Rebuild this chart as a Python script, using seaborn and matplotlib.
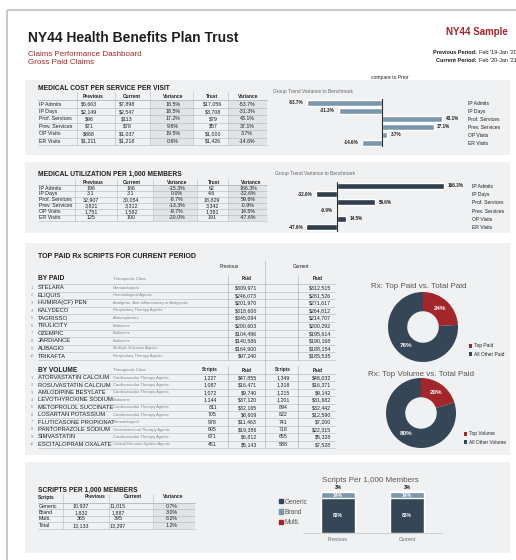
import matplotlib
matplotlib.use("Agg")
import matplotlib.pyplot as plt
from matplotlib.patches import Rectangle, Patch
import numpy as np
import seaborn as sns

sns.set_style("white")
plt.rcParams["font.family"] = ["Liberation Sans", "DejaVu Sans"]

# ---------------------------------------------------------------------------
# Data
# ---------------------------------------------------------------------------
services = ["IP Admits", "IP Days", "Prof. Services", "Prev. Services", "OP Visits", "ER Visits"]

cost_prev = ["$6,663", "$2,149", "$96", "$71", "$868", "$1,211"]
cost_cur = ["$7,898", "$2,547", "$113", "$78", "$1,037", "$1,218"]
cost_var = ["18.5%", "18.5%", "17.2%", "9.8%", "19.5%", "0.6%"]
cost_trust = ["$17,056", "$3,708", "$79", "$57", "$1,000", "$1,426"]
cost_trust_var = [-53.7, -31.3, 43.1, 37.1, 3.7, -14.6]

util_prev = ["196", "3.1", "32,907", "3,821", "1,751", "125"]
util_cur = ["166", "3.1", "30,054", "3,312", "1,582", "100"]
util_var = ["-15.3%", "0.0%", "-8.7%", "-13.3%", "-9.7%", "-20.0%"]
util_trust = ["62", "4.6", "18,829", "3,342", "1,381", "191"]
util_trust_var = [166.3, -32.6, 59.6, -0.9, 14.5, -47.6]

paid_drugs = ["STELARA", "ELIQUIS", "HUMIRA(CF) PEN", "KALYDECO", "TAGRISSO",
              "TRULICITY", "OZEMPIC", "JARDIANCE", "AUBAGIO", "TRIKAFTA"]
paid_class = ["Dermatological", "Hematological Agents",
              "Analgesic, Anti-Inflammatory or Antipyretic", "Respiratory Therapy Agents",
              "Antineoplastics", "Endocrine", "Endocrine", "Endocrine",
              "Multiple Sclerosis Agents", "Respiratory Therapy Agents"]
paid_prev = ["$309,971", "$246,073", "$201,970", "$318,600", "$345,094",
             "$200,603", "$104,496", "$140,586", "$164,900", "$97,240"]
paid_cur = ["$312,515", "$281,526", "$271,617", "$264,812", "$214,707",
            "$200,292", "$195,614", "$190,168", "$188,154", "$185,535"]

vol_drugs = ["ATORVASTATIN CALCIUM", "ROSUVASTATIN CALCIUM", "AMLODIPINE BESYLATE",
             "LEVOTHYROXINE SODIUM", "METOPROLOL SUCCINATE", "LOSARTAN POTASSIUM",
             "FLUTICASONE PROPIONAT", "PANTOPRAZOLE SODIUM", "SIMVASTATIN",
             "ESCITALOPRAM OXALATE"]
vol_class = ["Cardiovascular Therapy Agents", "Cardiovascular Therapy Agents",
             "Cardiovascular Therapy Agents", "Endocrine", "Cardiovascular Therapy Agents",
             "Cardiovascular Therapy Agents", "Dermatological",
             "Gastrointestinal Therapy Agents", "Cardiovascular Therapy Agents",
             "Central Nervous System Agents"]
vol_prev_scripts = ["1,227", "1,087", "1,072", "1,144", "811", "705", "978", "605", "671", "451"]
vol_prev_paid = ["$47,855", "$16,471", "$9,740", "$37,120", "$32,165",
                 "$8,609", "$11,463", "$19,386", "$6,812", "$5,143"]
vol_cur_scripts = ["1,349", "1,318", "1,215", "1,201", "894", "822", "741", "718", "655", "588"]
vol_cur_paid = ["$48,032", "$16,371", "$9,142", "$31,682", "$32,442",
                "$12,590", "$7,200", "$22,315", "$5,328", "$7,528"]

top_paid_share = [24, 76]
top_paid_labels = ["Top Paid", "All Other Paid"]
top_vol_share = [20, 80]
top_vol_labels = ["Top Volume", "All Other Volume"]

script_types = ["Generic", "Brand", "Multi.", "Total"]
script_prev = ["10,937", "1,832", "365", "13,133"]
script_cur = ["11,015", "1,887", "395", "13,297"]
script_var = ["0.7%", "3.0%", "8.2%", "1.2%"]

periods = ["Previous", "Current"]
generic_share = [83, 83]
brand_share = [14, 14]
multi_share = [3, 3]

# ---------------------------------------------------------------------------
# Styling
# ---------------------------------------------------------------------------
RED = "#a3262b"
DARK = "#354656"
STEEL = "#7b97ab"
PANEL = "#eff1f3"
SHADE = "#e1e3e5"
LINE = "#b3b7bb"
TXT = "#1e1e1e"
GRAY = "#666666"
LIGHT = "#858585"

W, H = 516, 560
fig = plt.figure(figsize=(W / 100, H / 100), dpi=100)
bg = fig.add_axes([0, 0, 1, 1])
bg.set_xlim(0, W)
bg.set_ylim(H, 0)
bg.axis("off")


def px_axes(x0, y0, x1, y1):
    return fig.add_axes([x0 / W, 1 - y1 / H, (x1 - x0) / W, (y1 - y0) / H])


# page frame and panels
bg.add_patch(Rectangle((7, 10), 530, 570, fill=False, ec="#cacaca", lw=1.5))
for y0, y1 in [(80, 155), (162, 233), (243, 455), (462, 553)]:
    bg.add_patch(Rectangle((25, y0), 485, y1 - y0, fc=PANEL, ec="none"))

# header
bg.text(28, 38, "NY44 Health Benefits Plan Trust", fontsize=10, fontweight="bold",
        color=TXT, va="center")
bg.text(28, 54, "Claims Performance Dashboard", fontsize=5.8, color=RED, va="center")
bg.text(28, 62, "Gross Paid Claims", fontsize=5.8, color=RED, va="center")
bg.text(508, 32, "NY44 Sample", fontsize=7, fontweight="bold", color=RED, va="center", ha="right")
bg.text(477, 53, "Previous Period:", fontsize=4, fontweight="bold", color=TXT, va="center", ha="right")
bg.text(479, 53, "Feb '19-Jan '20", fontsize=4, color=TXT, va="center")
bg.text(477, 61, "Current Period:", fontsize=4, fontweight="bold", color=TXT, va="center", ha="right")
bg.text(479, 61, "Feb '20-Jan '21", fontsize=4, color=TXT, va="center")
bg.text(390, 78, "compare to Prior", fontsize=3.6, color=TXT, va="center", ha="center")


# ---------------------------------------------------------------------------
# Metric tables
# ---------------------------------------------------------------------------
def metric_table(title, title_y, edges, header, head_x, header_y, val_x, first_y, step,
                 labels, cols, shade):
    bg.text(edges[0], title_y, title, fontsize=4.8, fontweight="bold", color=TXT, va="center")
    top = first_y - step / 2
    bottom = first_y + step * (len(labels) - 0.5)
    for j in shade:
        bg.add_patch(Rectangle((edges[j] + 0.5, top), edges[j + 1] - edges[j] - 1,
                               bottom - top, fc=SHADE, ec="none"))
    if header[0]:
        bg.text(edges[0], header_y, header[0], fontsize=3.5, fontweight="bold",
                color=TXT, va="center")
    for hx, h in zip(head_x, header[1:]):
        bg.text(hx, header_y, h, fontsize=3.5, fontweight="bold", color=TXT,
                va="center", ha="center")
    for e in edges[1:-1]:
        bg.plot([e, e], [header_y - step / 2, bottom], color=LINE, lw=0.4)
    bg.plot([edges[0], edges[-1]], [top, top], color=LINE, lw=0.6)
    for i, lab in enumerate(labels):
        y = first_y + i * step
        bg.text(edges[0] + 1, y, lab, fontsize=3.8, color=TXT, va="center")
        for vx, col in zip(val_x, cols):
            bg.text(vx, y, col[i], fontsize=3.8, color=TXT, va="center", ha="center")
        bg.plot([edges[0], edges[-1]], [y + step / 2, y + step / 2], color=LINE, lw=0.4)


metric_table("MEDICAL COST PER SERVICE PER VISIT", 88, [38, 77, 115, 150, 193, 228, 267],
             ["", "Previous", "Current", "Variance", "Trust", "Variance"],
             [93, 132, 173, 212, 248], 96, [89, 127, 173, 213, 247], 104, 7.45,
             services, [cost_prev, cost_cur, cost_var, cost_trust,
                        [f"{v:.1f}%" for v in cost_trust_var]], [3, 5])

metric_table("MEDICAL UTILIZATION PER 1,000 MEMBERS", 174.5, [38, 75, 117, 153, 197, 228, 267],
             ["", "Previous", "Current", "Variance", "Trust", "Variance"],
             [93, 132, 177, 214, 251], 182, [91, 131, 177, 212, 248], 188, 5.95,
             services, [util_prev, util_cur, util_var, util_trust,
                        [f"{v:.1f}%" for v in util_trust_var]], [3, 5])

metric_table("SCRIPTS PER 1,000 MEMBERS", 490, [38, 63, 109, 153, 195],
             ["Scripts", "Previous", "Current", "Variance"],
             [95, 133, 173], 497, [81, 118, 172], 506, 6.5,
             script_types, [script_prev, script_cur, script_var], [3])


# ---------------------------------------------------------------------------
# Variance bar charts
# ---------------------------------------------------------------------------
def variance_bars(vals, color, box, xlim, offset, pad, title_xy):
    ax = px_axes(*box)
    sns.barplot(x=vals, y=services, orient="h", color=color, saturation=1,
                width=0.72, ax=ax)
    ax.set_xlim(*xlim)
    ax.set_ylim(len(services) - 0.5, -0.5)
    ax.axvline(0, color="#2b2b2b", lw=0.8)
    ax.yaxis.tick_right()
    ax.tick_params(axis="y", length=0, pad=pad, labelsize=3.6, labelcolor=TXT)
    ax.set_xticks([])
    ax.set_xlabel("")
    ax.set_ylabel("")
    sns.despine(ax=ax, left=True, bottom=True)
    ax.patch.set_alpha(0)
    for i, v in enumerate(vals):
        ax.text(v + offset if v >= 0 else v - offset, i, f"{v:.1f}%",
                ha="left" if v >= 0 else "right", va="center",
                fontsize=3.3, fontweight="bold", color=TXT)
    bg.text(title_xy[0], title_xy[1], "Group Trend Variance to Benchmark",
            fontsize=3.5, color=GRAY, va="center")


variance_bars(cost_trust_var, STEEL, (290, 99, 460, 146.7), (-66.2, 56.1), 2.6, 5.8, (273, 91))
variance_bars(util_trust_var, "#2f3e4c", (295, 181.5, 462, 231.5), (-65.1, 193.8), 5.0, 7.2, (275, 174))


# ---------------------------------------------------------------------------
# Top Rx tables
# ---------------------------------------------------------------------------
bg.text(38, 256, "TOP PAID Rx SCRIPTS FOR CURRENT PERIOD", fontsize=5, fontweight="bold",
        color=TXT, va="center")
bg.text(229, 266, "Previous", fontsize=3.5, color=TXT, va="center", ha="center")
bg.text(301, 266, "Current", fontsize=3.5, color=TXT, va="center", ha="center")
bg.plot([265, 265], [261, 448], color=LINE, lw=0.5)


def rx_block(heading, head_y, first_y, step, names, classes, cols, col_x, col_ha, heads, head_x):
    bg.text(38, head_y, heading, fontsize=4.8, fontweight="bold", color=TXT, va="center")
    bg.text(113, head_y, "Therapeutic Class", fontsize=3, color=LIGHT, va="center")
    for hx, h in zip(head_x, heads):
        bg.text(hx, head_y, h, fontsize=3.3, fontweight="bold", color=TXT,
                va="center", ha="center")
    top = first_y - step / 2
    bottom = first_y + step * (len(names) - 0.5)
    bg.plot([38, 335], [top, top], color=LINE, lw=0.5)
    for e in [228, 298]:
        bg.plot([e, e], [head_y - 4, bottom], color=LINE, lw=0.5)
    for i, name in enumerate(names):
        y = first_y + i * step
        bg.text(32, y, str(i + 1), fontsize=2.8, color=LIGHT, va="center", ha="center")
        bg.text(38, y, name, fontsize=4.2, color=TXT, va="center")
        bg.text(113, y, classes[i], fontsize=2.9, color=LIGHT, va="center")
        for cx, ha, col in zip(col_x, col_ha, cols):
            bg.text(cx, y, col[i], fontsize=3.8, color=TXT, va="center", ha=ha)
        bg.plot([38, 335], [y + step / 2, y + step / 2], color=LINE, lw=0.4)


rx_block("BY PAID", 278.7, 287.7, 7.6, paid_drugs, paid_class, [paid_prev, paid_cur],
         [257, 331], ["right", "right"], ["Paid", "Paid"], [247, 318])
rx_block("BY VOLUME", 370, 377.7, 7.4, vol_drugs, vol_class,
         [vol_prev_scripts, vol_prev_paid, vol_cur_scripts, vol_cur_paid],
         [217, 257, 283, 331], ["right", "right", "center", "right"],
         ["Scripts", "Paid", "Scripts", "Paid"], [210, 247, 283, 318])


# ---------------------------------------------------------------------------
# Donuts
# ---------------------------------------------------------------------------
def donut(share, labels, center, title, title_xy, legend_xy):
    cx, cy = center
    r = 35
    ax = px_axes(cx - r, cy - r, cx + r, cy + r)
    wedges, _, autotexts = ax.pie(
        share, colors=[RED, DARK], startangle=90, counterclock=False,
        wedgeprops=dict(width=0.55, edgecolor="none"),
        autopct=lambda p: f"{p:.0f}%", pctdistance=0.72,
        textprops=dict(color="white", fontsize=4.5, fontweight="bold"))
    ax.set_xlim(-1, 1)
    ax.set_ylim(-1, 1)
    ax.set_aspect("equal")
    bg.text(title_xy[0], title_xy[1], title, fontsize=5.8, color="#555555",
            ha="center", va="center")
    ax.legend(wedges, labels, loc="upper left",
              bbox_to_anchor=(legend_xy[0] / W, 1 - legend_xy[1] / H),
              bbox_transform=fig.transFigure, frameon=False, fontsize=3.5,
              handlelength=0.7, handleheight=0.7, handletextpad=0.3,
              labelspacing=0.65, borderpad=0, borderaxespad=0)


donut(top_paid_share, top_paid_labels, (423, 327), "Rx: Top Paid vs. Total Paid",
      (419, 286), (469, 343.5))
donut(top_vol_share, top_vol_labels, (421, 413), "Rx: Top Volume vs. Total Paid",
      (421, 374), (464, 431.5))


# ---------------------------------------------------------------------------
# Scripts stacked bar
# ---------------------------------------------------------------------------
ax = px_axes(303, 485, 442, 533)
gb = [g + b for g, b in zip(generic_share, brand_share)]
tot = [s + m for s, m in zip(gb, multi_share)]
sns.barplot(x=periods, y=tot, color=RED, saturation=1, width=0.48, ax=ax)
sns.barplot(x=periods, y=gb, color=STEEL, saturation=1, width=0.48, ax=ax)
sns.barplot(x=periods, y=generic_share, color=DARK, saturation=1, width=0.48, ax=ax)
ax.set_xlim(-0.507, 1.507)
ax.set_ylim(0, 114.3)
ax.set_yticks([])
ax.set_xlabel("")
ax.set_ylabel("")
sns.despine(ax=ax, left=True)
ax.spines["bottom"].set_color("#c8cacc")
ax.spines["bottom"].set_linewidth(0.6)
ax.tick_params(axis="x", length=0, pad=3, labelsize=3.6, labelcolor=GRAY)
ax.patch.set_alpha(0)
for i in range(len(periods)):
    ax.text(i, generic_share[i] / 2, f"{generic_share[i]}%", ha="center", va="center",
            fontsize=3.6, fontweight="bold", color="white")
    ax.text(i, generic_share[i] + brand_share[i] / 2, f"{brand_share[i]}%", ha="center",
            va="center", fontsize=3.6, fontweight="bold", color="white")
    ax.text(i, tot[i] + 2, f"{multi_share[i]}%", ha="center", va="bottom",
            fontsize=3.6, fontweight="bold", color=TXT)
bg.text(370, 480, "Scripts Per 1,000 Members", fontsize=5.8, color="#555555",
        ha="center", va="center")
ax.legend([Patch(color=DARK), Patch(color=STEEL), Patch(color=RED)],
          ["Generic", "Brand", "Multi."], loc="upper left",
          bbox_to_anchor=(279 / W, 1 - 498.5 / H), bbox_transform=fig.transFigure,
          frameon=False, fontsize=4.7, handlelength=0.6, handleheight=0.6,
          handletextpad=0.3, labelspacing=0.5, borderpad=0, borderaxespad=0,
          labelcolor="#555555")

fig.savefig("out.png", dpi=100)
